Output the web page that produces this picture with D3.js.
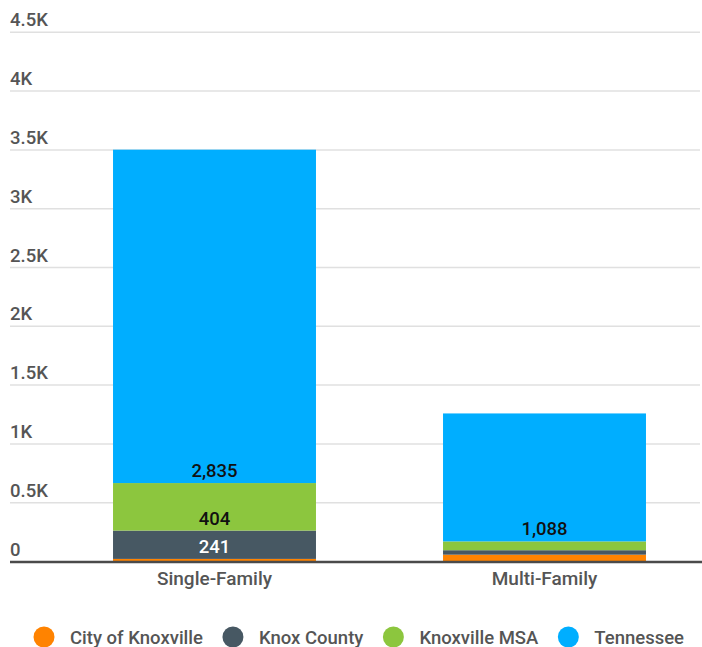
<!DOCTYPE html>
<html>
<head>
<meta charset="utf-8">
<script src="https://cdn.jsdelivr.net/npm/d3@7"></script>
<style>
  html, body { margin: 0; padding: 0; background: #ffffff; }
  svg { display: block; font-family: Roboto, "Noto Sans", sans-serif; }
</style>
</head>
<body>
<svg id="chart" width="702" height="647"></svg>
<script>
// Housing permits by type, stacked by geography
const categories = ["Single-Family", "Multi-Family"];
const seriesNames = ["City of Knoxville", "Knox County", "Knoxville MSA", "Tennessee"];
const cityOfKnoxville = [22, 58];
const knoxCounty = [241, 38];
const knoxvilleMSA = [404, 75];
const tennessee = [2835, 1088];
const yTicks = [0, 500, 1000, 1500, 2000, 2500, 3000, 3500, 4000, 4500];
const colors = ["#ff8300", "#475863", "#8cc63e", "#00aeff"];
const labelColors = ["#ffffff", "#ffffff", "#111111", "#111111"];

const seriesValues = [cityOfKnoxville, knoxCounty, knoxvilleMSA, tennessee];
const rows = categories.map((c, i) => {
  const r = { category: c };
  seriesNames.forEach((s, j) => { r[s] = seriesValues[j][i]; });
  return r;
});

const svg = d3.select("#chart");
const left = 10, right = 700;
const y = d3.scaleLinear().domain([0, 4500]).range([561.5, 32.3]);
const x = d3.scaleBand().domain(categories).range([49.5, 709.5])
  .paddingInner(0.385).paddingOuter(0.1925);

// gridlines and tick labels
const grid = svg.append("g");
grid.selectAll("line").data(yTicks.filter(d => d > 0)).join("line")
  .attr("x1", left).attr("x2", right)
  .attr("y1", d => y(d)).attr("y2", d => y(d))
  .attr("stroke", "#e0e0e0").attr("stroke-width", 1.5);
const fmt = d => d === 0 ? "0" : (d / 1000) + "K";
grid.selectAll("text").data(yTicks).join("text")
  .attr("x", left).attr("y", d => y(d) - 6)
  .attr("font-size", 18.5).attr("font-weight", 500).attr("fill", "#555")
  .text(fmt);

// stacked bars
const stack = d3.stack().keys(seriesNames)(rows);
const layers = svg.append("g").selectAll("g").data(stack).join("g")
  .attr("fill", (d, i) => colors[i]);
layers.selectAll("rect").data(d => d).join("rect")
  .attr("x", d => x(d.data.category))
  .attr("width", x.bandwidth())
  .attr("y", d => y(d[1]))
  .attr("height", d => y(d[0]) - y(d[1]));

// value labels at the inner base of tall segments
const labels = svg.append("g");
stack.forEach((layer, i) => {
  layer.forEach(d => {
    if (y(d[0]) - y(d[1]) < 25) return;
    labels.append("text")
      .attr("x", x(d.data.category) + x.bandwidth() / 2)
      .attr("y", y(d[0]) - 6)
      .attr("text-anchor", "middle")
      .attr("font-size", 18.5).attr("font-weight", 500)
      .attr("fill", labelColors[i])
      .text(d3.format(",")(d[1] - d[0]));
  });
});

// baseline
svg.append("line")
  .attr("x1", left).attr("x2", 702)
  .attr("y1", y(0) + 0.5).attr("y2", y(0) + 0.5)
  .attr("stroke", "#4a4a4a").attr("stroke-width", 2.5);

// category axis labels
svg.append("g").selectAll("text").data(categories).join("text")
  .attr("x", d => x(d) + x.bandwidth() / 2)
  .attr("y", 585)
  .attr("text-anchor", "middle")
  .attr("font-size", 19).attr("font-weight", 500).attr("fill", "#555")
  .text(d => d);

// legend
const legend = svg.append("g");
let lx = 34;
seriesNames.forEach((s, i) => {
  legend.append("circle").attr("cx", lx + 10).attr("cy", 637).attr("r", 10.5)
    .attr("fill", colors[i]);
  const t = legend.append("text").attr("x", lx + 36).attr("y", 643.5)
    .attr("font-size", 18.5).attr("font-weight", 500).attr("fill", "#555").text(s);
  lx += 36 + t.node().getComputedTextLength() + 20;
});
</script>
</body>
</html>
